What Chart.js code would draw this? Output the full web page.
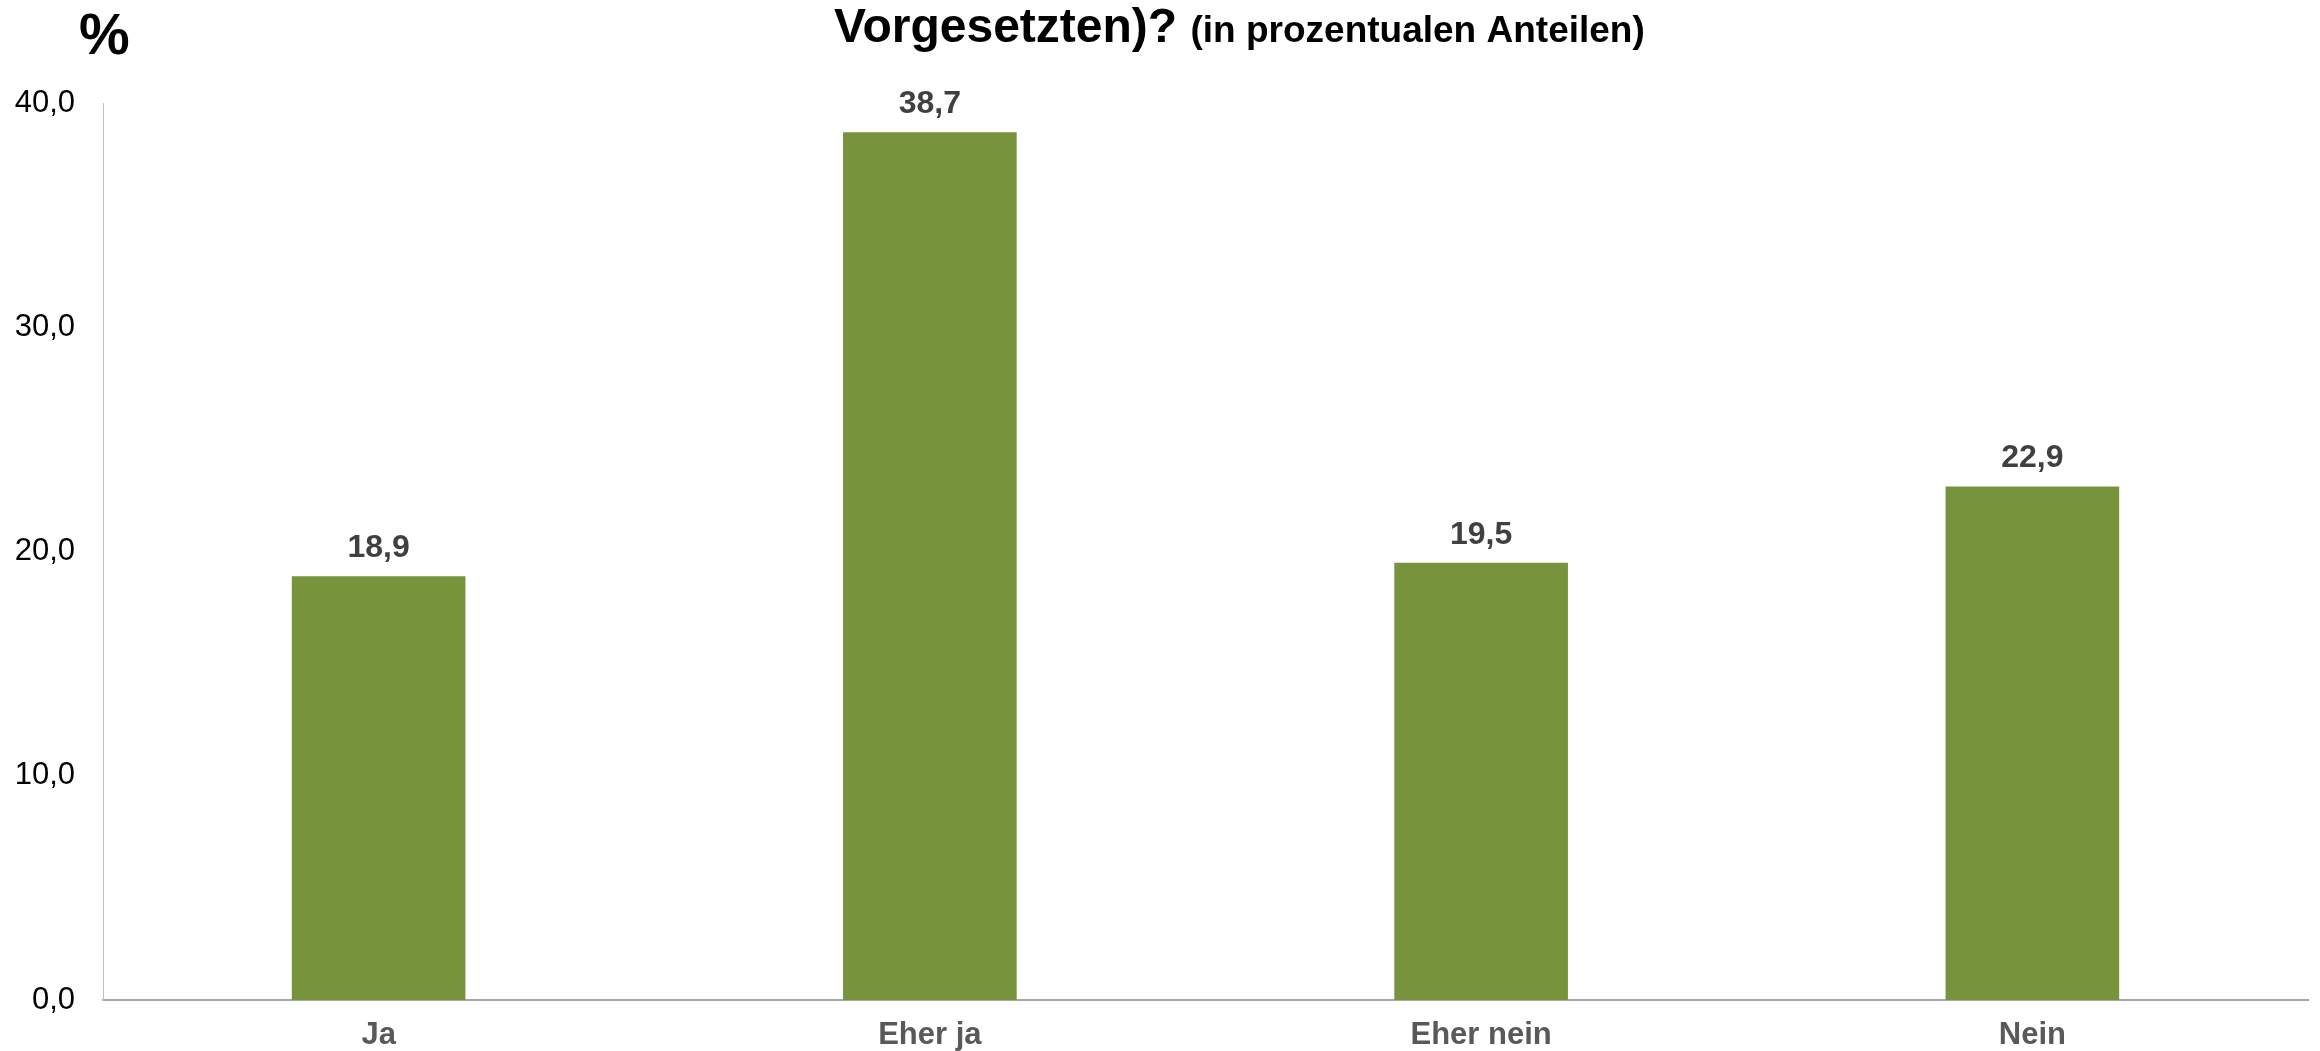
<!DOCTYPE html>
<html lang="de">
<head>
    <meta charset="UTF-8">
    <title>Vorgesetzten</title>
    <script src="https://cdn.jsdelivr.net/npm/chart.js@4.4.1/dist/chart.umd.min.js"></script>
    <style>
        html, body { margin: 0; padding: 0; background: #fff; }
        #wrap { width: 2320px; height: 1051px; position: relative; }
    </style>
</head>
<body>
    <div id="wrap"><canvas id="chart" width="2320" height="1051"></canvas></div>

    <script>
        // Data
        const categories = ['Ja', 'Eher ja', 'Eher nein', 'Nein'];
        const shares = [18.9, 38.7, 19.5, 22.9];
        const yTicks = [0, 10, 20, 30, 40];

        const titleMain = 'Vorgesetzten)?';
        const titleSub = '(in prozentualen Anteilen)';
        const unitLabel = '%';

        const fmt = v => v.toFixed(1).replace('.', ',');

        // title line, % sign and value labels above bars
        const extras = {
            id: 'extras',
            afterDraw(chart) {
                const ctx = chart.ctx;
                ctx.save();
                ctx.fillStyle = '#000';
                ctx.textBaseline = 'alphabetic';
                ctx.textAlign = 'left';
                ctx.font = 'bold 57px "Liberation Sans", Arial, sans-serif';
                ctx.fillText(unitLabel, 79, 54);

                ctx.font = 'bold 48px "Liberation Sans", Arial, sans-serif';
                const w1 = ctx.measureText(titleMain + ' ').width;
                ctx.fillText(titleMain + ' ', 834, 42);
                ctx.font = 'bold 37px "Liberation Sans", Arial, sans-serif';
                ctx.fillText(titleSub, 834 + w1, 42);

                ctx.fillStyle = '#404040';
                ctx.textAlign = 'center';
                ctx.font = 'bold 32px "Liberation Sans", Arial, sans-serif';
                chart.getDatasetMeta(0).data.forEach((bar, i) => {
                    ctx.fillText(fmt(shares[i]), bar.x, bar.y - 19);
                });
                ctx.restore();
            }
        };

        new Chart(document.getElementById('chart'), {
            type: 'bar',
            data: {
                labels: categories,
                datasets: [{
                    data: shares,
                    backgroundColor: '#77933c',
                    borderWidth: 0,
                    categoryPercentage: 1,
                    barPercentage: 0.315
                }]
            },
            options: {
                responsive: false,
                animation: false,
                layout: { padding: { top: 103, right: 12, left: 0, bottom: 0 } },
                plugins: {
                    legend: { display: false },
                    title: { display: false },
                    tooltip: { enabled: false }
                },
                scales: {
                    x: {
                        grid: { display: false, drawTicks: false },
                        border: { color: '#a6a6a6', width: 2 },
                        ticks: {
                            color: '#595959',
                            padding: 17,
                            font: { family: '"Liberation Sans", Arial, sans-serif', size: 31, weight: 'bold' }
                        },
                        afterFit(scale) { scale.height = 51; }
                    },
                    y: {
                        min: 0,
                        max: 40,
                        grid: { display: false, drawTicks: false },
                        border: { color: '#bfbfbf', width: 1 },
                        afterBuildTicks(scale) { scale.ticks = yTicks.map(v => ({ value: v })); },
                        ticks: {
                            color: '#000',
                            padding: 28,
                            font: { family: '"Liberation Sans", Arial, sans-serif', size: 31 },
                            callback: v => fmt(v)
                        },
                        afterFit(scale) { scale.width = 103; }
                    }
                }
            },
            plugins: [extras]
        });
    </script>
</body>
</html>
